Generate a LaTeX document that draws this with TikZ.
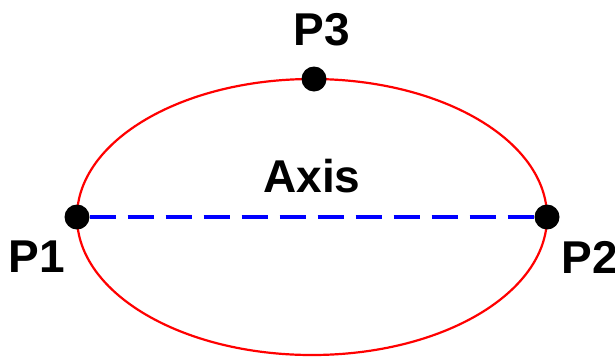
\documentclass[tikz,border=0pt]{standalone}
\usepackage{fontspec}
\setmainfont{Liberation Sans}
\begin{document}
\begin{tikzpicture}[x=1pt,y=-1pt]
  \useasboundingbox (0,0) rectangle (615,357);
  \draw[red,line width=2.2pt] (312,217) ellipse [x radius=235,y radius=138];
  \begin{scope}[every node/.style={circle,fill=black,inner sep=0pt,minimum size=25pt}]
    \node (p1) at (77,217) {};
    \node (p2) at (547,217) {};
    \node (p3) at (314,79) {};
  \end{scope}
  \begin{scope}[every edge/.style={draw=blue,line width=4pt,dash pattern=on 26pt off 12pt}]
    \path (p1.east) edge (p2.west);
  \end{scope}
  \begin{scope}[every node/.style={font=\fontsize{46}{50}\selectfont\bfseries,inner sep=0pt}]
    \node (l1) at (37,257) {P1};
    \node (l2) at (590,257) {P2};
    \node (l3) at (322,30) {P3};
    \node (lax) at (312,176) {Axis};
  \end{scope}
\end{tikzpicture}
\end{document}
